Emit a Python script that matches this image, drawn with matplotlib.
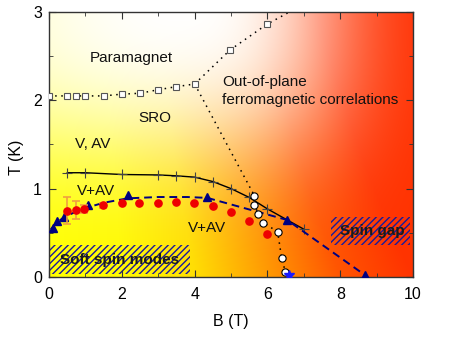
import matplotlib
matplotlib.use("Agg")
import matplotlib.pyplot as plt
from matplotlib.patches import Rectangle
from matplotlib.ticker import MultipleLocator
import numpy as np

plt.rcParams['font.family'] = ['Liberation Sans', 'DejaVu Sans']

# SRO crossover (open squares)
sq_B = [0.0, 0.5, 0.75, 1.0, 1.5, 2.0, 2.5, 3.0, 3.5, 4.0]
sq_T = [2.05, 2.05, 2.05, 2.05, 2.05, 2.07, 2.08, 2.12, 2.155, 2.185]
sq_hi_B = [4.97, 5.98]
sq_hi_T = [2.57, 2.86]
up_guide_B = [4.0, 4.97, 5.98, 6.6]
up_guide_T = [2.185, 2.57, 2.86, 3.0]

# open circles
circ_B = [5.64, 5.64, 5.75, 5.89, 6.28, 6.39, 6.49]
circ_T = [0.92, 0.82, 0.71, 0.615, 0.51, 0.21, 0.06]
down_guide_B = [4.0, 5.64, 5.64, 5.75, 5.89, 6.28, 6.39, 6.49, 6.5]
down_guide_T = [2.185, 0.92, 0.82, 0.71, 0.615, 0.51, 0.21, 0.06, 0.0]

# crosses
plus_B = [0.5, 1.0, 2.0, 3.0, 3.5, 4.0, 4.5, 5.0, 5.5, 6.0, 7.0]
plus_T = [1.18, 1.18, 1.16, 1.155, 1.145, 1.13, 1.08, 1.0, 0.9, 0.77, 0.54]

# triangles and dashed guide
tri_B = [0.1, 0.21, 0.42, 1.08, 2.16, 4.35, 6.54, 8.68]
tri_T = [0.55, 0.63, 0.68, 0.81, 0.93, 0.90, 0.645, 0.02]
dash_B = [0.05, 0.2, 0.42, 0.75, 1.08, 1.5, 2.16, 3.0, 3.8, 4.35, 6.54, 8.68]
dash_T = [0.54, 0.61, 0.68, 0.74, 0.79, 0.84, 0.89, 0.905, 0.905, 0.895, 0.645, 0.02]

# red circles with error bars
red_B = [0.5, 0.74, 0.97, 1.49, 2.0, 2.48, 2.98, 3.49, 3.99, 4.49, 4.99, 5.49, 5.99]
red_T = [0.75, 0.76, 0.77, 0.81, 0.835, 0.84, 0.84, 0.85, 0.84, 0.80, 0.73, 0.63, 0.49]
red_err = [0.15, 0.10, 0.045, 0.03, 0, 0, 0, 0, 0, 0, 0, 0, 0]

star_B = [6.59]
star_T = [0.02]

fig = plt.figure(figsize=(4.5, 3.44), dpi=100)
ax = fig.add_axes([0.109, 0.195, 0.809, 0.770])

# background colour map
bb, tt = np.meshgrid(np.linspace(0, 10, 400), np.linspace(0, 3, 150))
s = bb * (1 + 0.12 * tt)
g = np.interp(s, [0, 2, 4, 6, 8, 10, 14], [1, 0.98, 0.87, 0.6, 0.33, 0.2, 0.18])
dx = np.where(bb < 3.5, ((bb - 3.5) / 10) ** 2, (np.abs(bb - 3.5) / 4.6) ** 3)
dy = (np.abs(3.3 - tt) / 2.0) ** 3
w = np.exp(-dx - dy)
rgb = np.dstack([np.ones_like(g), g + (1 - g) * w, w])
ax.imshow(rgb, extent=[0, 10, 0, 3], origin='lower', aspect='auto', zorder=0,
          interpolation='bilinear')

# hatched regions
ax.add_patch(Rectangle((0.03, 0.03), 3.84, 0.33, facecolor='none', edgecolor='#1a1a9a',
                       hatch='/////', linewidth=0, zorder=1))
ax.add_patch(Rectangle((7.75, 0.36), 2.17, 0.32, facecolor='none', edgecolor='#1a1a9a',
                       hatch='/////', linewidth=0, zorder=1))

ax.plot(sq_B, sq_T, linestyle=(0, (1, 3)), color='black', lw=1.1, marker='s', ms=4.3,
        mfc='white', mec='#555555', mew=0.8, zorder=3)
ax.plot(up_guide_B, up_guide_T, linestyle=(0, (1, 3)), color='black', lw=1.1, zorder=2)
ax.plot(sq_hi_B, sq_hi_T, linestyle='none', marker='s', ms=4.3, mfc='white',
        mec='#555555', mew=0.8, zorder=3)
ax.plot(down_guide_B, down_guide_T, linestyle=(0, (1, 3)), color='black', lw=1.1, zorder=2)

ax.plot(plus_B, plus_T, color='black', lw=1.0, marker='+', ms=7, mew=0.8,
        mec='#444444', zorder=3)
ax.plot(dash_B, dash_T, color='#000080', lw=1.4, dashes=(4, 2.5), zorder=3)
ax.plot(tri_B, tri_T, linestyle='none', marker='^', ms=5.6, color='#000080', zorder=4)

ax.errorbar(red_B, red_T, yerr=red_err, fmt='none', ecolor='#f0a040', elinewidth=1.2,
            capsize=3, capthick=1.2, zorder=4)
ax.plot(red_B, red_T, linestyle='none', marker='o', ms=5.2, color='#ee0000', zorder=5)
ax.plot(circ_B, circ_T, linestyle='none', marker='o', ms=5.2, mfc='white', mec='black',
        mew=0.8, zorder=5)
ax.plot(star_B, star_T, linestyle='none', marker='*', ms=7, color='#1a1aff', zorder=5)

fs = 11
ax.text(1.13, 2.48, "Paramagnet", fontsize=fs, va='center', ha='left', color='#111111')
ax.text(2.45, 1.80, "SRO", fontsize=fs, va='center', ha='left', color='#111111')
ax.text(0.71, 1.51, "V, AV", fontsize=fs, va='center', ha='left', color='#111111')
ax.text(0.77, 0.97, "V+AV", fontsize=fs, va='center', ha='left', color='#111111')
ax.text(3.82, 0.555, "V+AV", fontsize=fs, va='center', ha='left', color='#111111')
ax.text(4.75, 2.21, "Out-of-plane", fontsize=fs, va='center', ha='left', color='#111111')
ax.text(4.75, 2.0, "ferromagnetic correlations", fontsize=fs, va='center', ha='left',
        color='#111111')
ax.text(0.3, 0.19, "Soft spin modes", fontsize=fs, va='center', ha='left',
        fontweight='bold', color='#1a1a1a', zorder=6)
ax.text(8.0, 0.52, "Spin gap", fontsize=fs, va='center', ha='left',
        fontweight='bold', color='#1a1a1a', zorder=6)

ax.set_xlim(0, 10)
ax.set_ylim(0, 3)
ax.xaxis.set_major_locator(MultipleLocator(2))
ax.xaxis.set_minor_locator(MultipleLocator(1))
ax.yaxis.set_major_locator(MultipleLocator(1))
ax.yaxis.set_minor_locator(MultipleLocator(0.5))
ax.tick_params(which='both', direction='in', top=True, right=True, labelsize=11.5,
               color='#333333')
ax.tick_params(which='major', length=5)
ax.tick_params(which='minor', length=3)
ax.tick_params(axis='x', pad=7)
ax.tick_params(axis='y', pad=5)
for sp in ax.spines.values():
    sp.set_color('#333333')
    sp.set_linewidth(1.0)

ax.set_xlabel("B (T)", fontsize=11.5)
ax.set_ylabel("T (K)", fontsize=11.5)
ax.xaxis.label.set_va('center')
ax.yaxis.label.set_va('center')
ax.xaxis.set_label_coords(0.5, -0.169)
ax.yaxis.set_label_coords(-0.089, 0.45)

fig.savefig("out.png", dpi=100)
